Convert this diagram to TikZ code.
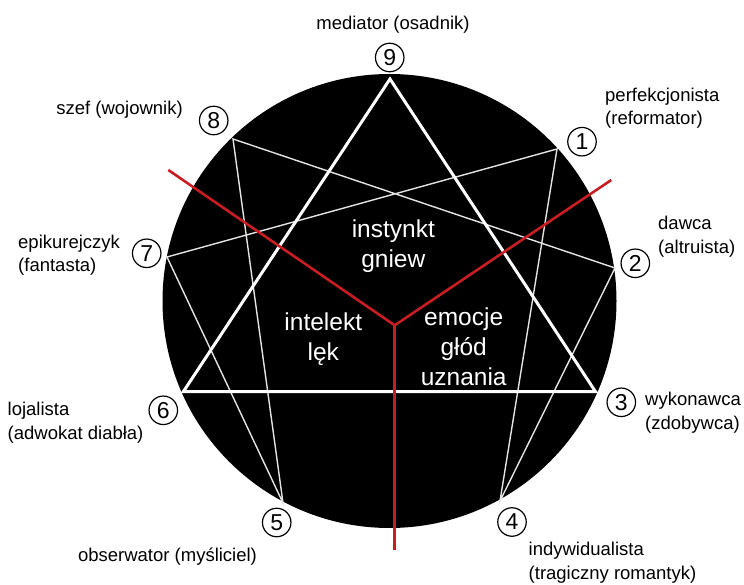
\documentclass[tikz,border=0pt]{standalone}
\usepackage{fontspec}
\setmainfont{Liberation Sans}
\usetikzlibrary{positioning}
\definecolor{enneared}{RGB}{200,30,35}
\definecolor{hexwhite}{RGB}{228,228,228}

\begin{document}
\begin{tikzpicture}[x=1pt, y=1pt,
    numcirc/.style={circle, draw=black, line width=1.2pt, minimum size=28.5pt,
                    inner sep=0pt, font=\fontsize{23}{23}\selectfont},
    outerlbl/.style={align=left, inner sep=0pt, font=\fontsize{18.5}{23.5}\selectfont},
    innerlbl/.style={align=center, inner sep=0pt, text=white, font=\fontsize{24.5}{30}\selectfont},
    triline/.style={draw=white, line width=3pt, line join=miter},
    hexline/.style={draw=hexwhite, line width=1.4pt},
    centreline/.style={draw=enneared, line width=2.6pt}]
    \useasboundingbox (0,0) rectangle (744,584);

    % black disc
    \coordinate (c) at (389.5,283);
    \fill[black] (c) circle (227);

    % points of the figure
    \coordinate (p9) at (390,505);
    \coordinate (p1) at (557,435);
    \coordinate (p2) at (615,316);
    \coordinate (p3) at (595.5,192.3);
    \coordinate (p4) at (500,83);
    \coordinate (p5) at (283,81);
    \coordinate (p6) at (183.3,192.3);
    \coordinate (p7) at (167,327);
    \coordinate (p8) at (233,445);

    % hexad and triangle
    \draw[hexline] (p1) -- (p4) -- (p2) -- (p8) -- (p5) -- (p7) -- cycle;
    \draw[triline] (p9) -- (p3) -- (p6) -- cycle;

    % three centres
    \coordinate (mid) at (394.7,258.7);
    \coordinate (redl) at (168.3,414);
    \coordinate (redr) at (611.3,404);
    \coordinate (redb) at (394.7,33.7);
    \draw[centreline] (redl) -- (mid) -- (redr);
    \draw[centreline] (mid) -- (redb);

    \node[innerlbl] (instinct) at (393.3,337.8) {instynkt\\gniew};
    \node[innerlbl] (intellect) at (323.3,244.5) {intelekt\\lęk};
    \node[innerlbl] (emotion) at (463.7,237) {emocje\\głód\\uznania};

    % numbers
    \node[numcirc] (n9) at (389.7,526.5) {9};
    \node[numcirc] (n1) at (582,442.3) {1};
    \node[numcirc] (n2) at (635.3,320.7) {2};
    \node[numcirc] (n3) at (621.3,181.7) {3};
    \node[numcirc] (n4) at (512,62) {4};
    \node[numcirc] (n5) at (276.7,61.5) {5};
    \node[numcirc] (n6) at (163.3,173.7) {6};
    \node[numcirc] (n7) at (146.7,330.7) {7};
    \node[numcirc] (n8) at (213.7,463.5) {8};

    % type names
    \node[outerlbl] (t9) at (393,559) {mediator (osadnik)};
    \node[outerlbl, anchor=west] (t1) at (605,475.7) {perfekcjonista\\(reformator)};
    \node[outerlbl, anchor=west] (t2) at (658,347.5) {dawca\\(altruista)};
    \node[outerlbl, anchor=west] (t3) at (645,171.2) {wykonawca\\(zdobywca)};
    \node[outerlbl, anchor=west] (t4) at (528.5,21.2) {indywidualista\\(tragiczny romantyk)};
    \node[outerlbl] (t5) at (167.5,27) {obserwator (myśliciel)};
    \node[outerlbl, anchor=west] (t6) at (7.5,161.2) {lojalista\\(adwokat diabła)};
    \node[outerlbl, anchor=west] (t7) at (18,329) {epikurejczyk\\(fantasta)};
    \node[outerlbl, anchor=east] (t8) at (183,474) {szef (wojownik)};
\end{tikzpicture}
\end{document}
